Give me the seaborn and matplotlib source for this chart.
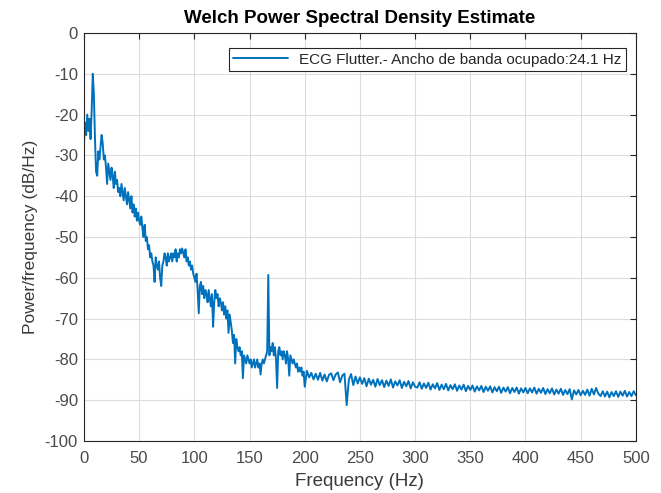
import numpy as np
import pandas as pd
import matplotlib
matplotlib.use("Agg")
import matplotlib.pyplot as plt
import seaborn as sns

# Frequency grid (Hz)
freq_low = list(range(0, 201, 1))
freq_high = list(range(202, 501, 2))

# PSD values (dB/Hz)
psd_low = [
    -27, -22, -25, -20, -24, -21, -26, -19, -10, -15,
    -26, -34, -35, -29, -31, -28, -25, -27, -31, -30,
    -33, -37, -32, -34, -36, -33, -35, -38, -34, -37,
    -36, -39, -38, -40, -37, -39, -41, -38, -40, -42,
    -39, -41, -43, -40, -44, -42, -45, -43, -46, -44,
    -46, -47, -45, -48, -50, -47, -51, -50, -53, -52,
    -55, -54, -56, -57, -61, -55, -57, -58, -56, -60,
    -62, -57, -56, -54, -55, -57, -54, -56, -55, -54,
    -56, -54, -55, -53, -56, -54, -55, -53, -54, -52.8,
    -54, -55, -53, -56, -55, -57, -56, -58, -57, -59,
    -60, -61, -59, -63, -68.7, -62, -61, -64, -62, -65,
    -63, -64, -66, -63, -65, -67, -64, -72, -66, -63,
    -65, -64, -67, -65, -66, -68, -66, -69, -67, -70,
    -68, -73.5, -69, -71, -73, -76, -74, -81, -75, -77,
    -78, -77, -79, -78, -84.6, -79, -80, -81, -79, -80,
    -81, -80, -82, -81, -80, -82, -81, -80, -82, -81,
    -83.7, -81, -80, -81, -80, -79, -78, -59.3, -79, -77,
    -78, -76, -79, -77, -80, -87, -78, -77, -79, -78,
    -80, -78, -79, -81, -78, -80, -84, -79, -80, -81,
    -80, -81, -82, -81, -83, -82, -83, -82, -84, -83,
    -86.7,
]
psd_high = [
    -82.8, -84.4, -83.3, -84.9, -83.5, -85, -83.3, -85.2, -83.7, -85.4,
    -83.8, -83.4, -85.1, -83.7, -83.2, -85.6, -84, -83.5, -91.2, -84.9,
    -83.6, -86.3, -84.2, -85.9, -84.4,
    -86, -84.6, -86.6, -84.7, -86.2, -85, -86.7, -84.8, -86.3, -85.1,
    -86.8, -85.2, -86.5, -84.9, -86.9, -85.4, -86.4, -85.1, -87, -85.5,
    -86.6, -85.3, -87.1, -85.6, -86.7,
    -86.9, -85.6, -87.2, -85.9, -87, -85.7, -87.4, -86.1, -87.1, -85.8,
    -87.5, -86.2, -87.3, -86, -87.6, -86.3, -87.3, -86.1, -87.7, -86.4,
    -87.4, -86.2, -87.8, -86.5, -87.5,
    -86.4, -87.9, -86.6, -87.6, -86.5, -88, -86.7, -87.7, -86.6, -88.1,
    -86.8, -87.8, -86.7, -88.2, -86.9, -87.9, -86.8, -88.3, -87, -88,
    -86.9, -88.4, -87.1, -88.1, -87,
    -88.3, -87.1, -88.1, -86.9, -88.4, -87.2, -88.2, -87, -88.5, -87.3,
    -88.3, -87.1, -88.6, -87.4, -88.4, -87.2, -88.7, -87.5, -88.5, -87.3,
    -89.8, -87.6, -88.6, -87.5, -88.8,
    -87.7, -88.7, -87.4, -88.9, -87.2, -88.6, -87, -88.4, -89, -87.8,
    -89.1, -87.9, -89.3, -88, -89, -87.8, -89.2, -87.9, -88.9, -87.7,
    -89.1, -88, -89, -87.8, -88.8,
]

x_ticks = list(range(0, 501, 50))
y_ticks = list(range(-100, 1, 10))
legend_label = "ECG Flutter.- Ancho de banda ocupado:24.1 Hz"

df = pd.DataFrame({"freq": freq_low + freq_high, "psd": psd_low + psd_high})

sns.set_style("white")
plt.rcParams["font.family"] = ["Liberation Sans", "DejaVu Sans"]
plt.rcParams["axes.unicode_minus"] = False

fig = plt.figure(figsize=(6.61, 4.93), dpi=100)
ax = fig.add_axes([0.127, 0.1055, 0.835, 0.8275])

sns.lineplot(data=df, x="freq", y="psd", ax=ax, color="#0072BD",
             linewidth=1.4, label=legend_label, estimator=None, sort=False)

ax.set_xlim(0, 500)
ax.set_ylim(-100, 0)
ax.set_xticks(x_ticks)
ax.set_yticks(y_ticks)
ax.grid(True, color="#dcdcdc", linewidth=0.8)
ax.set_axisbelow(True)
ax.tick_params(direction="in", top=True, right=True, length=4,
               labelsize=12, colors="#262626", labelcolor="#4a4a4a")
ax.tick_params(axis="x", pad=7.5)
ax.tick_params(axis="y", pad=4.3)
for s in ax.spines.values():
    s.set_color("#262626")
    s.set_linewidth(0.8)

ax.set_xlabel("Frequency (Hz)", fontsize=13.5, color="#3a3a3a", labelpad=5)
ax.set_ylabel("Power/frequency (dB/Hz)", fontsize=12.5, color="#3a3a3a", labelpad=5)
ax.set_title("Welch Power Spectral Density Estimate", fontsize=13.5,
             fontweight="bold", color="black", pad=7)

leg = ax.legend(loc="upper right", bbox_to_anchor=(0.982, 0.963), borderaxespad=0,
                fontsize=11, frameon=True, fancybox=False,
                edgecolor="#262626", framealpha=1,
                handlelength=3.6, handletextpad=0.7, borderpad=0.3)
leg.get_frame().set_linewidth(0.8)

fig.savefig("out.png", dpi=100, facecolor="white")
